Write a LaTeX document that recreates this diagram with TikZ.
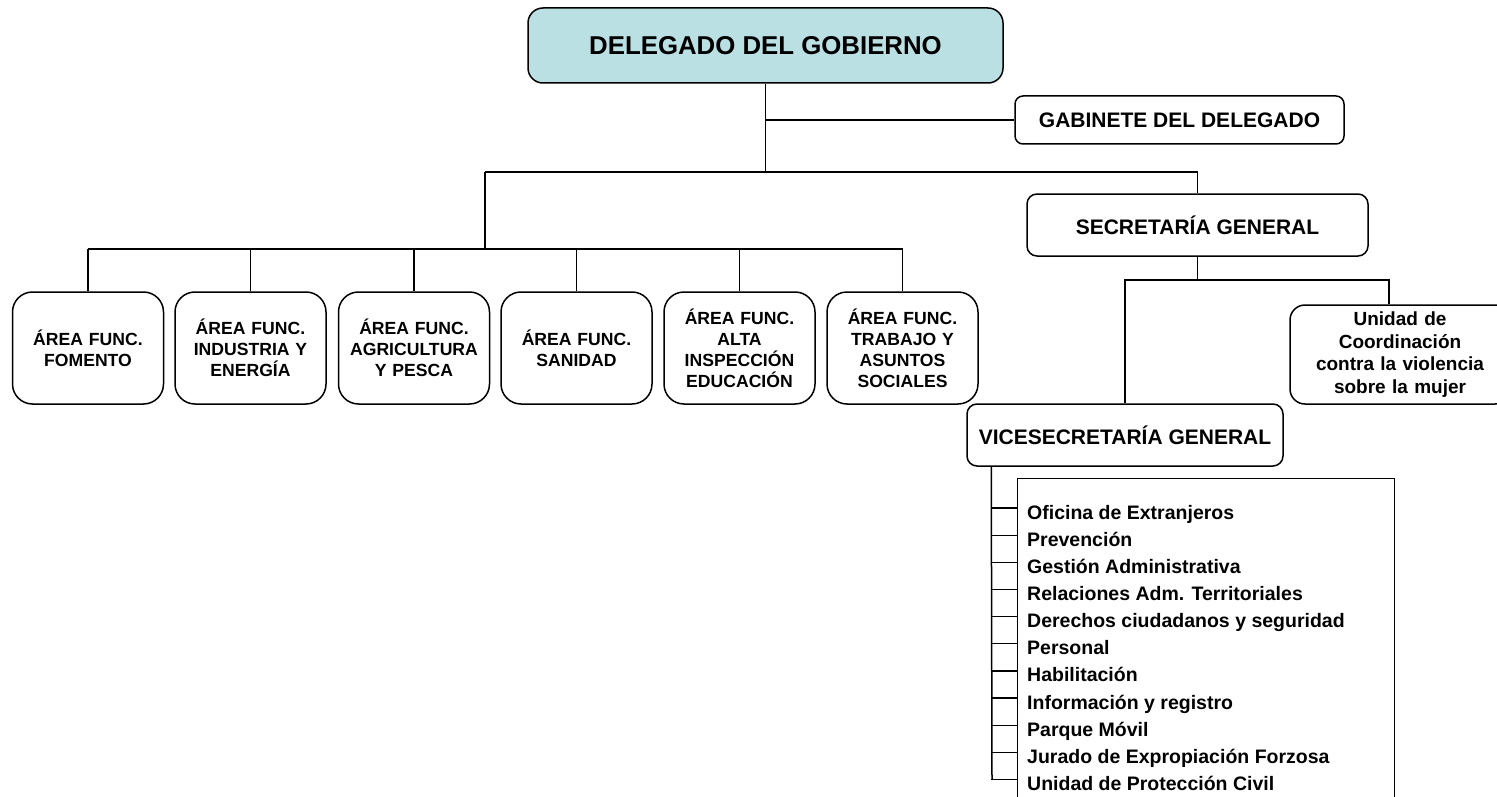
\documentclass[tikz,border=0pt]{standalone}
\usepackage{fontspec}
\setmainfont{Liberation Sans}
\usetikzlibrary{calc}
\definecolor{delfill}{RGB}{187,224,228}
\begin{document}
\begin{tikzpicture}[x=1pt,y=-1pt,
  box/.style={draw, line width=1.5pt, rounded corners=#1, inner sep=0pt, align=center},
  box/.default=10pt,
  areabox/.style={box=20pt, minimum width=151pt, minimum height=112pt, text width=145pt,
    font=\fontsize{17.6}{21}\selectfont\bfseries},
  bigfont/.style={font=\fontsize{21}{25}\selectfont\bfseries},
  conn/.style={line width=1.5pt},
  item/.style={anchor=base west, inner sep=0pt, font=\fontsize{19.5}{23}\selectfont\bfseries}]
\clip (0,0) rectangle (1497,797);
\fill[white] (0,0) rectangle (1497,797);

% main boxes
\node[box=15pt, fill=delfill, minimum width=475pt, minimum height=75pt,
  font=\fontsize{25.8}{30}\selectfont\bfseries] (del) at (765.5,45.5) {DELEGADO DEL GOBIERNO};
\node[box=8pt, bigfont, minimum width=329pt, minimum height=48pt] (gab) at (1179.5,120) {GABINETE DEL DELEGADO};
\node[box=10pt, bigfont, minimum width=341pt, minimum height=62pt] (sec) at (1197.5,225) {SECRETARÍA GENERAL};
\node[box=10pt, bigfont, minimum width=316pt, minimum height=62pt] (vice) at (1125,435) {VICESECRETARÍA GENERAL};
\node[box=15pt, minimum width=220pt, minimum height=99pt, text width=215pt,
  font=\fontsize{19}{22.5}\selectfont\bfseries] (unid) at (1400,354.5)
  {Unidad de\\Coordinación\\contra la violencia\\sobre la mujer};

% functional areas
\node[areabox] (a1) at (88,348) {ÁREA FUNC.\\FOMENTO};
\node[areabox] (a2) at (250.5,348) {ÁREA FUNC.\\INDUSTRIA Y\\ENERGÍA};
\node[areabox] (a3) at (414,348) {ÁREA FUNC.\\AGRICULTURA\\Y PESCA};
\node[areabox] (a4) at (576.5,348) {ÁREA FUNC.\\SANIDAD};
\node[areabox] (a5) at (739.5,348) {ÁREA FUNC.\\ALTA\\INSPECCIÓN\\EDUCACIÓN};
\node[areabox] (a6) at (902.5,348) {ÁREA FUNC.\\TRABAJO Y\\ASUNTOS\\SOCIALES};

% connectors top
\coordinate (hub) at (765.5,172);
\coordinate (hl) at (485,172);
\coordinate (abar) at (485,249);
\coordinate (y280) at (0,280);
\draw[conn] (del.south) -- (hub);
\draw[conn] (del.south |- gab.west) -- (gab.west);
\draw[conn] (hl) -- (hub) -| (sec.north);
\draw[conn] (hl) -- (abar);
\draw[conn] (a1.north |- abar) -- (a6.north |- abar);
\foreach \i in {1,...,6} {\draw[conn] (a\i.north |- abar) -- (a\i.north);}

% secretaria branches
\coordinate (uconn) at ($(unid.north)+(-11,0)$);
\draw[conn] (sec.south) -- (sec.south |- y280);
\draw[conn] (vice.north) |- (y280 -| uconn) -- (uconn);

% list
\node[draw, line width=1.3pt, anchor=north west, minimum width=377pt, minimum height=360pt, inner sep=0pt] (lst) at (1017,478) {};
\coordinate (vtop) at ($(vice.south west)+(25,0)$);
\coordinate (vbot) at (992,779.5);
\draw[conn] (vtop) -- (vbot);
\foreach \t [count=\i from 0] in {Oficina de Extranjeros, Prevención, Gestión Administrativa,
  Relaciones Adm. Territoriales, Derechos ciudadanos y seguridad, Personal, Habilitación,
  Información y registro, Parque Móvil, Jurado de Expropiación Forzosa, Unidad de Protección Civil} {
  \pgfmathsetmacro{\yy}{508+27.15*\i}
  \node[item] (it\i) at (1027,\yy+11) {\t};
  \draw[line width=1.3pt] (vtop |- 0,\yy) -- (lst.west |- 0,\yy);
}
\end{tikzpicture}
\end{document}
